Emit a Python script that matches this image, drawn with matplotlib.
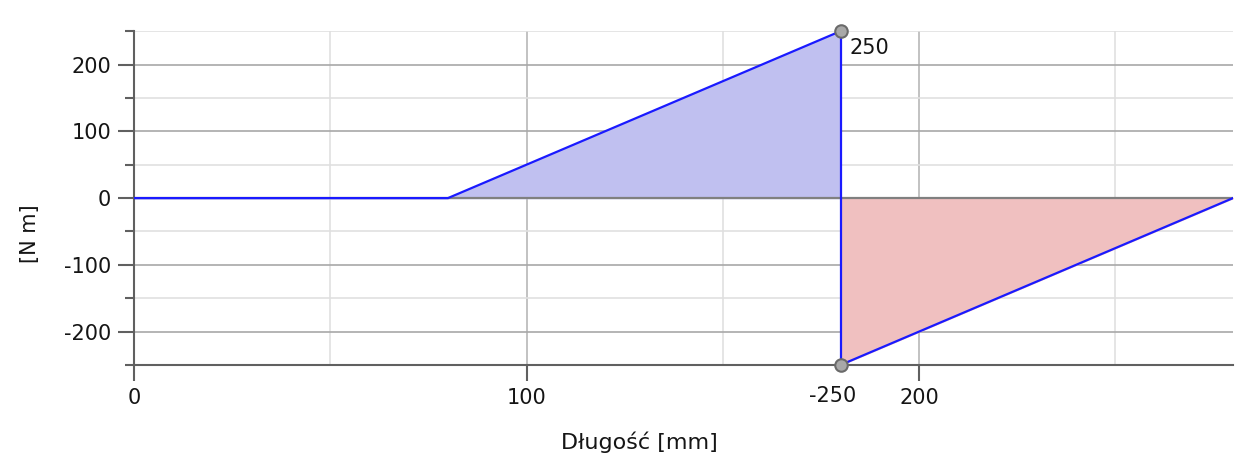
import matplotlib
matplotlib.use("Agg")
import matplotlib.pyplot as plt
import numpy as np

plt.rcParams["axes.unicode_minus"] = False

# data
x_pos = [0, 80, 180]
y_pos = [0, 0, 250]
x_neg = [180, 280]
y_neg = [-250, 0]
x_jump = [180, 180]
y_jump = [250, -250]
peak_labels = ["250", "-250"]
x_ticks = [0, 100, 200]
y_ticks = [-200, -100, 0, 100, 200]

fig = plt.figure(figsize=(12.36, 4.72), dpi=100)
ax = fig.add_axes([0.1084, 0.2267, 0.8892, 0.7073])
ax.set_xlim(0, 280)
ax.set_ylim(-250, 250)

# grid
for v in [50, 150, 250]:
    ax.axvline(v, color="#e0e0e0", lw=1.2, zorder=0)
for v in [100, 200]:
    ax.axvline(v, color="#b8b8b8", lw=1.2, zorder=0)
for v in [-250, -150, -50, 50, 150, 250]:
    ax.axhline(v, color="#e0e0e0", lw=1.2, zorder=0)
for v in [-200, -100, 100, 200]:
    ax.axhline(v, color="#a8a8a8", lw=1.2, zorder=0)

ax.fill_between(x_pos, y_pos, 0, color="#c0c0f0", zorder=1)
ax.fill_between(x_neg, y_neg, 0, color="#f0c0c0", zorder=1)
ax.axhline(0, color="#808080", lw=1.6, zorder=2)

ax.plot(x_pos, y_pos, color="#1a1aff", lw=1.6, zorder=3)
ax.plot(x_jump, y_jump, color="#1a1aff", lw=1.6, zorder=3)
ax.plot(x_neg, y_neg, color="#1a1aff", lw=1.6, zorder=3)

ax.plot([x_jump[0]], [y_jump[0]], "o", ms=9, mfc="#a8a8a8", mec="#6a6a6a", mew=1.5, zorder=4, clip_on=False)
ax.plot([x_jump[1]], [y_jump[1]], "o", ms=9, mfc="#a8a8a8", mec="#6a6a6a", mew=1.5, zorder=4, clip_on=False)
ax.annotate(peak_labels[0], (x_jump[0], y_jump[0]), xytext=(21, -12), textcoords="offset points",
            ha="center", va="center", fontsize=15, color="#151515")
ax.annotate(peak_labels[1], (x_jump[1], y_jump[1]), xytext=(-6, -22), textcoords="offset points",
            ha="center", va="center", fontsize=15, color="#151515")

for s in ["top", "right"]:
    ax.spines[s].set_visible(False)
ax.spines["left"].set_color("#606060")
ax.spines["bottom"].set_color("#606060")
ax.spines["left"].set_linewidth(1.5)
ax.spines["bottom"].set_linewidth(1.5)

ax.set_xticks(x_ticks)
ax.set_yticks(y_ticks)
ax.set_yticks([-250, -150, -50, 50, 150, 250], minor=True)
ax.tick_params(axis="both", which="major", colors="#606060", labelcolor="#151515", labelsize=15, width=1.5)
ax.tick_params(axis="y", which="major", length=11.5, pad=5)
ax.tick_params(axis="y", which="minor", length=6.5, width=1.5, colors="#606060")
ax.tick_params(axis="x", which="major", length=11.5, pad=5)

ax.set_xlabel("Długość [mm]", fontsize=16, color="#151515", va="center")
ax.xaxis.set_label_coords(0.46, -0.23)
ax.set_ylabel("[N m]", fontsize=15, color="#151515", va="center")
ax.yaxis.set_label_coords(-0.0946, 0.392)

fig.savefig("out.png", dpi=100)
